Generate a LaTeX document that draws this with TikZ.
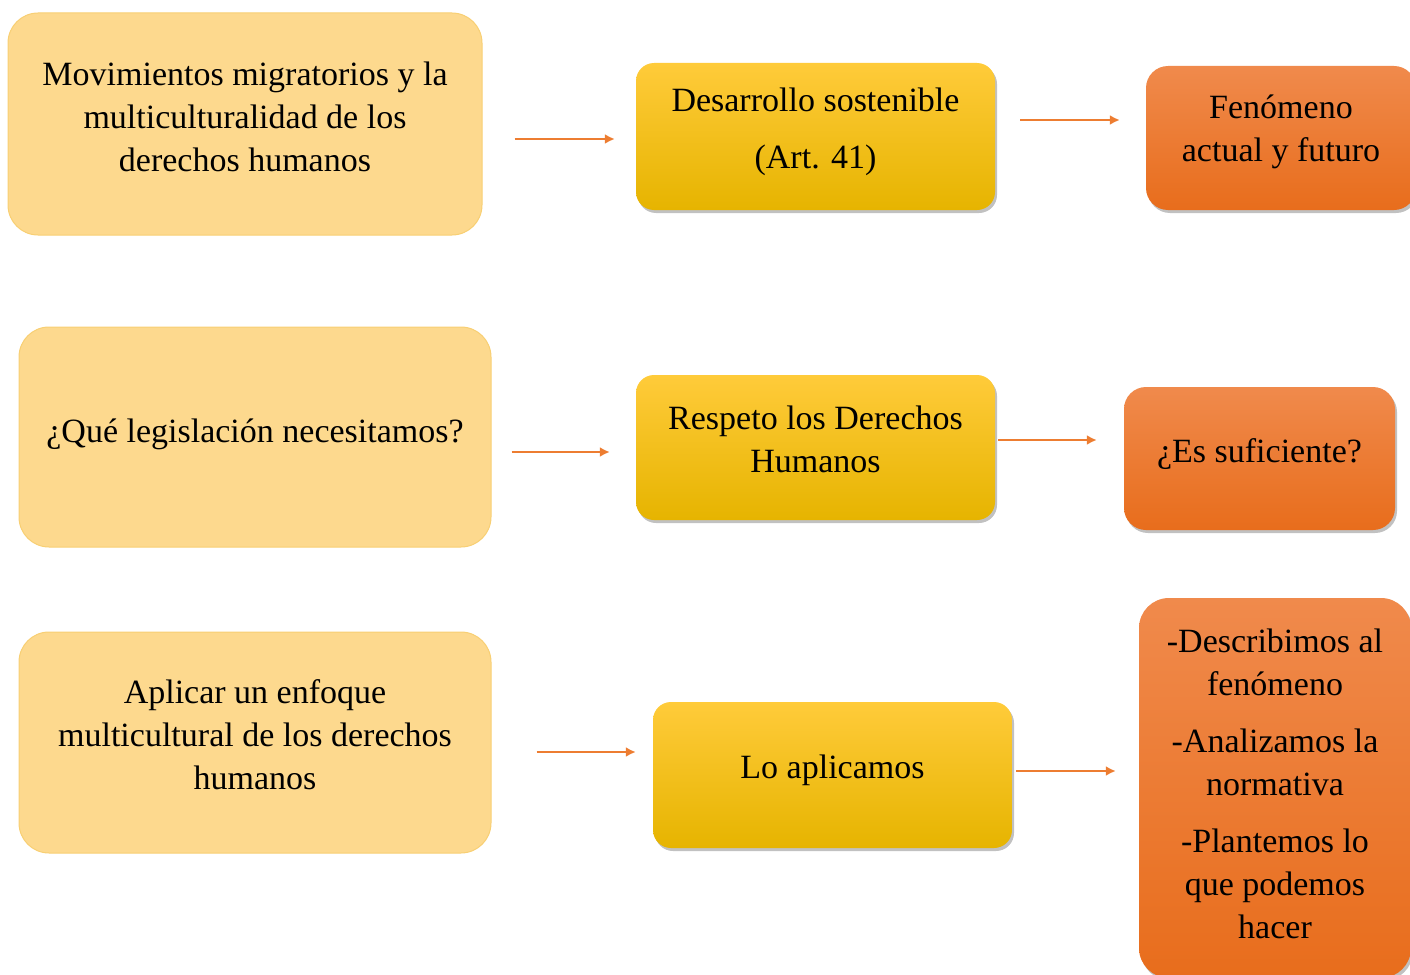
\documentclass[tikz,border=0pt]{standalone}
\usepackage{fontspec}
\setmainfont{Liberation Serif}
\usetikzlibrary{shadows,arrows.meta}
\definecolor{lightfill}{HTML}{FDD98E}
\definecolor{lightedge}{HTML}{F8CF73}
\definecolor{ytop}{HTML}{FFCB3A}
\definecolor{ybot}{HTML}{E6B400}
\definecolor{otop}{HTML}{F08A4C}
\definecolor{obot}{HTML}{E86D1C}
\definecolor{arrc}{HTML}{ED7D31}
\newcommand\boxtext[2]{\raisebox{#1}[\height][\depth]{\begin{tabular}{@{}c@{}}#2\end{tabular}}}
\tikzset{
  lightbox/.style={draw=lightedge, line width=1pt, fill=lightfill, rounded corners=30pt, inner sep=0pt},
  yellowbox/.style={rounded corners=18pt, top color=ytop, bottom color=ybot, inner sep=0pt,
     drop shadow={shadow xshift=2pt, shadow yshift=-3pt, opacity=0.35, fill=black!70}},
  orangebox/.style={rounded corners=22pt, top color=otop, bottom color=obot, inner sep=0pt,
     drop shadow={shadow xshift=2pt, shadow yshift=-3pt, opacity=0.35, fill=black!70}},
  arr/.style={draw=arrc, line width=2.2pt, -{Latex[length=10pt,width=10pt]}},
  txt/.style={font=\fontsize{34}{43}\selectfont}
}
\begin{document}
\begin{tikzpicture}[x=1pt,y=-1pt]
\useasboundingbox (0,0) rectangle (1410,974);
% row 1
\node[lightbox, txt, minimum width=474pt, minimum height=222pt] (A1) at (245,124)
  {\boxtext{4pt}{Movimientos migratorios y la\\ multiculturalidad de los\\ derechos humanos}};
\node[yellowbox, txt, minimum width=359pt, minimum height=147pt] (B1) at (815.5,136.5)
  {\boxtext{5pt}{Desarrollo sostenible\\[14pt](Art. 41)}};
\node[orangebox, txt, minimum width=270pt, minimum height=144pt] (C1) at (1281,138)
  {\boxtext{7pt}{Fenómeno\\actual y futuro}};
% row 2
\node[lightbox, txt, minimum width=472pt, minimum height=220pt] (A2) at (255,437)
  {\boxtext{3pt}{¿Qué legislación necesitamos?}};
\node[yellowbox, txt, minimum width=359pt, minimum height=145pt] (B2) at (815.5,447.5)
  {\boxtext{5pt}{Respeto los Derechos\\Humanos}};
\node[orangebox, txt, minimum width=271pt, minimum height=143pt] (C2) at (1259.5,458.5)
  {\boxtext{5pt}{¿Es suficiente?}};
% row 3
\node[lightbox, txt, minimum width=472pt, minimum height=221pt] (A3) at (255,742.5)
  {\boxtext{5pt}{Aplicar un enfoque\\multicultural de los derechos\\humanos}};
\node[yellowbox, txt, minimum width=359pt, minimum height=146pt] (B3) at (832.5,775)
  {\boxtext{5pt}{Lo aplicamos}};
\node[orangebox, txt, minimum width=272pt, minimum height=380pt, rounded corners=30pt] (C3) at (1275,788)
  {\boxtext{1pt}{-Describimos al\\fenómeno\\[14pt]-Analizamos la\\normativa\\[14pt]-Plantemos lo\\que podemos\\hacer}};
% arrows
\draw[arr] ([xshift=32pt]A1.east |- 0,139) -- ([xshift=-21pt]B1.west |- 0,139);
\draw[arr] ([xshift=25pt]B1.east |- 0,120) -- ([xshift=-26pt]C1.west |- 0,120);
\draw[arr] ([xshift=20pt]A2.east |- 0,452) -- ([xshift=-26pt]B2.west |- 0,452);
\draw[arr] ([xshift=3pt]B2.east |- 0,440) -- ([xshift=-27pt]C2.west |- 0,440);
\draw[arr] ([xshift=45pt]A3.east |- 0,752) -- ([xshift=-17pt]B3.west |- 0,752);
\draw[arr] ([xshift=4pt]B3.east |- 0,771) -- ([xshift=-23pt]C3.west |- 0,771);
\end{tikzpicture}
\end{document}
